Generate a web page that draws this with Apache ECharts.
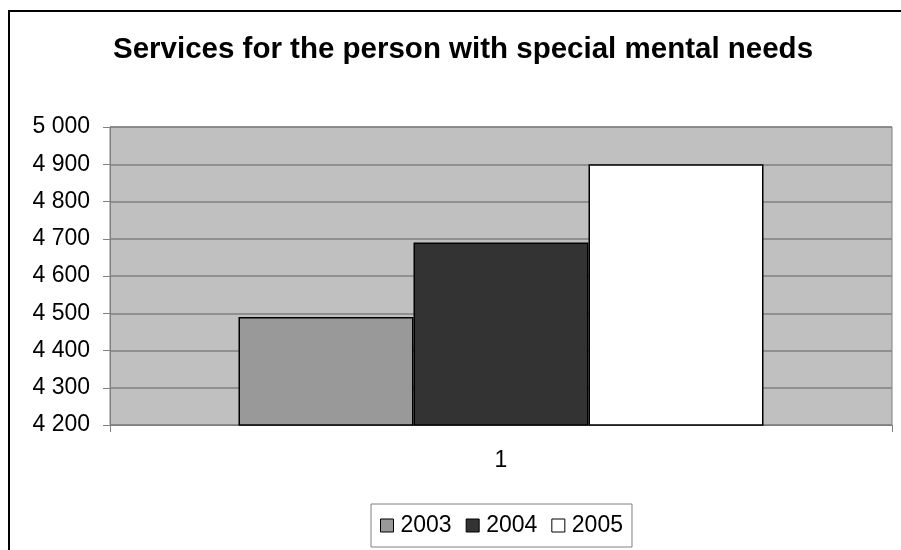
<!DOCTYPE html>
<html>
<head>
<meta charset="utf-8">
<script src="https://cdn.jsdelivr.net/npm/echarts@6/dist/echarts.min.js"></script>
<style>
  html, body { margin: 0; padding: 0; background: #fff; }
  #chart { width: 901px; height: 550px; }
</style>
</head>
<body>
<div id="chart"></div>
<script>
// data
var categories = ['1'];
var years = ['2003', '2004', '2005'];
var values2003 = [4490];
var values2004 = [4690];
var values2005 = [4900];
var yTicks = { min: 4200, max: 5000, step: 100 };

var barColors = ['#999999', '#333333', '#ffffff'];
var seriesValues = [values2003, values2004, values2005];

function spaced(v) {
  // 4200 -> "4 200"
  return String(v).replace(/\B(?=(\d{3})+(?!\d))/g, ' ');
}

var chart = echarts.init(document.getElementById('chart'));
chart.setOption({
  animation: false,
  backgroundColor: '#fff',
  textStyle: { fontFamily: 'Liberation Sans, Arial, sans-serif' },
  title: {
    text: 'Services for the person with special mental needs',
    left: 108,
    top: 30,
    textStyle: { fontSize: 29.5, fontWeight: 'bold', color: '#000' }
  },
  graphic: [{
    type: 'rect',
    shape: { x: 9, y: 11, width: 960, height: 620 },
    style: { fill: 'none', stroke: '#000', lineWidth: 2 },
    silent: true
  }],
  legend: {
    data: years,
    bottom: 3,
    left: 371,
    itemWidth: 13,
    itemHeight: 13,
    itemGap: 14,
    padding: [10, 9],
    borderColor: '#808080',
    borderWidth: 1,
    icon: 'rect',
    itemStyle: { borderColor: '#000', borderWidth: 1 },
    textStyle: { fontSize: 23, color: '#000', padding: [0, 0, 0, 2] }
  },
  grid: {
    left: 110,
    right: 9,
    top: 127,
    bottom: 125,
    show: true,
    backgroundColor: '#c0c0c0',
    borderColor: '#808080',
    borderWidth: 1
  },
  xAxis: {
    type: 'category',
    data: categories,
    axisLine: { lineStyle: { color: '#808080', width: 1 } },
    axisTick: { show: true, length: 7, lineStyle: { color: '#808080' } },
    axisLabel: { fontSize: 23, color: '#000', margin: 24 }
  },
  yAxis: {
    type: 'value',
    min: yTicks.min,
    max: yTicks.max,
    interval: yTicks.step,
    axisLine: { show: true, lineStyle: { color: '#808080', width: 1 } },
    axisTick: { show: true, length: 7, lineStyle: { color: '#808080' } },
    axisLabel: { fontSize: 23, color: '#000', margin: 20, formatter: spaced },
    splitLine: { lineStyle: { color: '#808080', width: 1.5 } }
  },
  series: years.map(function (y, i) {
    return {
      name: y,
      type: 'bar',
      data: seriesValues[i],
      barWidth: 175,
      barGap: '0%',
      itemStyle: { color: barColors[i], borderColor: '#000', borderWidth: 1.5 }
    };
  })
});
</script>
</body>
</html>
